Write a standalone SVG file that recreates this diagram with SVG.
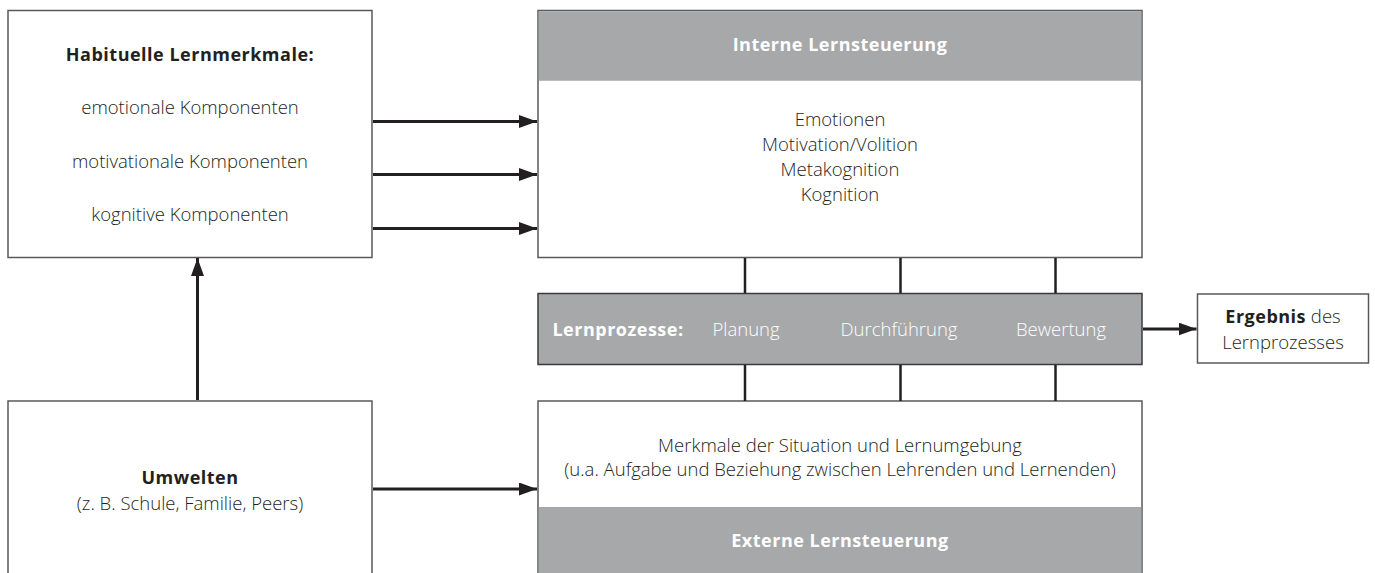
<svg xmlns="http://www.w3.org/2000/svg" width="1375" height="573" viewBox="0 0 1375 573">
  <style>
    .box { fill: #ffffff; stroke: #58595b; stroke-width: 1.5; }
    .band { fill: #a7a8aa; stroke: none; }
    .bar { fill: #a7a8aa; stroke: #3a3a3c; stroke-width: 1.5; }
    .t { font-family: "Open Sans", "Liberation Sans", sans-serif; font-size: 18.5px; font-weight: 350; fill: #231f20; text-anchor: middle; }
    .b { font-weight: 700; font-size: 18px; letter-spacing: 0.5px; }
    .w { fill: #ffffff; }
    .arrow { stroke: #231f20; stroke-width: 3; fill: none; marker-end: url(#ah); }
    .link { stroke: #231f20; stroke-width: 2.5; fill: none; }
  </style>
  <defs>
    <marker id="ah" markerUnits="userSpaceOnUse" markerWidth="18" markerHeight="13" refX="18" refY="6.5" orient="auto">
      <path d="M0,0 L18,6.5 L0,13 z" fill="#231f20"/>
    </marker>
  </defs>
  <rect width="1375" height="573" fill="#ffffff"/>

  <g id="habituelle">
    <rect class="box" x="8" y="10.5" width="364" height="247"/>
    <text class="t b" x="190" y="61">Habituelle Lernmerkmale:</text>
    <text class="t" x="190" y="114">emotionale Komponenten</text>
    <text class="t" x="190" y="168">motivationale Komponenten</text>
    <text class="t" x="190" y="221">kognitive Komponenten</text>
  </g>

  <g id="interne">
    <rect class="box" x="538" y="10.5" width="604" height="247"/>
    <rect class="band" x="538.75" y="11.25" width="602.5" height="69.5"/>
    <text class="t b w" x="840" y="51">Interne Lernsteuerung</text>
    <text class="t" x="840" y="126">Emotionen</text>
    <text class="t" x="840" y="151">Motivation/Volition</text>
    <text class="t" x="840" y="176">Metakognition</text>
    <text class="t" x="840" y="201">Kognition</text>
  </g>

  <g id="lernprozesse">
    <rect class="bar" x="538" y="293.5" width="604" height="71"/>
    <text class="t b w" x="618" y="336">Lernprozesse:</text>
    <text class="t w" x="746" y="336">Planung</text>
    <text class="t w" x="899" y="336">Durchführung</text>
    <text class="t w" x="1061" y="336">Bewertung</text>
  </g>

  <g id="ergebnis">
    <rect class="box" x="1197.5" y="294" width="171" height="69"/>
    <text class="t" x="1283" y="323"><tspan class="b">Ergebnis</tspan> des</text>
    <text class="t" x="1283" y="349">Lernprozesses</text>
  </g>

  <g id="externe">
    <rect class="box" x="538" y="401" width="604" height="180"/>
    <rect class="band" x="538.75" y="507" width="602.5" height="70"/>
    <text class="t" x="840" y="452">Merkmale der Situation und Lernumgebung</text>
    <text class="t" x="840" y="476">(u.a. Aufgabe und Beziehung zwischen Lehrenden und Lernenden)</text>
    <text class="t b w" x="840" y="547">Externe Lernsteuerung</text>
  </g>

  <g id="umwelten">
    <rect class="box" x="8" y="401" width="364" height="180"/>
    <text class="t b" x="190" y="484">Umwelten</text>
    <text class="t" x="190" y="510">(z. B. Schule, Familie, Peers)</text>
  </g>

  <g id="connectors">
    <line class="arrow" x1="373" y1="121.5" x2="537" y2="121.5"/>
    <line class="arrow" x1="373" y1="174.5" x2="537" y2="174.5"/>
    <line class="arrow" x1="373" y1="228.5" x2="537" y2="228.5"/>
    <line class="arrow" x1="373" y1="489" x2="537" y2="489"/>
    <line class="arrow" x1="197.5" y1="400" x2="197.5" y2="258"/>
    <line class="arrow" x1="1143" y1="329" x2="1196.5" y2="329"/>
    <line class="link" x1="745" y1="258" x2="745" y2="293"/>
    <line class="link" x1="900.5" y1="258" x2="900.5" y2="293"/>
    <line class="link" x1="1055.5" y1="258" x2="1055.5" y2="293"/>
    <line class="link" x1="745" y1="365" x2="745" y2="401"/>
    <line class="link" x1="900.5" y1="365" x2="900.5" y2="401"/>
    <line class="link" x1="1055.5" y1="365" x2="1055.5" y2="401"/>
  </g>
</svg>
